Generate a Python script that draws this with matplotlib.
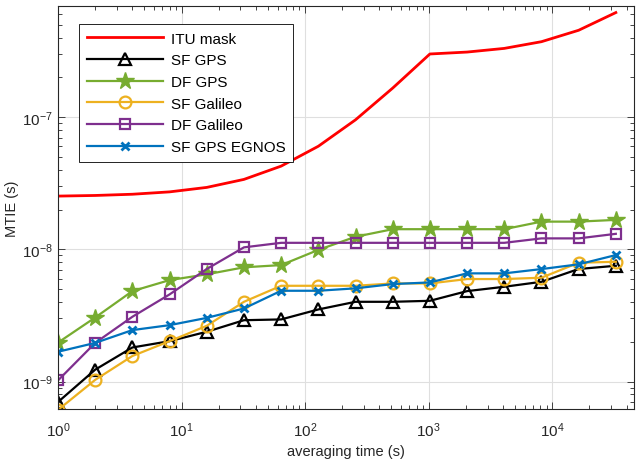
import matplotlib
matplotlib.use("Agg")
import matplotlib.pyplot as plt
from matplotlib.ticker import LogLocator, LogFormatterMathtext, NullFormatter

plt.rcParams['font.family'] = ['Liberation Sans', 'DejaVu Sans']
plt.rcParams['mathtext.fontset'] = 'custom'
plt.rcParams['mathtext.rm'] = 'Liberation Sans'
plt.rcParams['mathtext.it'] = 'Liberation Sans:italic'
plt.rcParams['mathtext.bf'] = 'Liberation Sans:bold'

tau = [1, 2, 4, 8, 16, 32, 64, 128, 256, 512, 1024, 2048, 4096, 8192, 16384, 32768]

itu_mask = [2.5275e-8, 2.555e-8, 2.61e-8, 2.72e-8, 2.94e-8, 3.38e-8, 4.26e-8, 6.02e-8,
            9.54e-8, 1.658e-7, 3.0024e-7, 3.1048e-7, 3.3096e-7, 3.7192e-7, 4.5384e-7, 6.1768e-7]
sf_gps = [7.0e-10, 1.23e-9, 1.81e-9, 2.02e-9, 2.38e-9, 2.91e-9, 2.95e-9, 3.51e-9,
          4.01e-9, 4.01e-9, 4.08e-9, 4.83e-9, 5.21e-9, 5.68e-9, 7.1e-9, 7.51e-9]
df_gps = [1.97e-9, 3.05e-9, 4.83e-9, 5.85e-9, 6.47e-9, 7.31e-9, 7.6e-9, 9.9e-9,
          1.245e-8, 1.42e-8, 1.42e-8, 1.42e-8, 1.42e-8, 1.62e-8, 1.62e-8, 1.67e-8]
sf_galileo = [6.1e-10, 1.03e-9, 1.56e-9, 2.02e-9, 2.64e-9, 4.01e-9, 5.3e-9, 5.3e-9,
              5.3e-9, 5.52e-9, 5.52e-9, 5.96e-9, 5.96e-9, 6.1e-9, 7.92e-9, 8.05e-9]
df_galileo = [1.02e-9, 1.96e-9, 3.09e-9, 4.56e-9, 7.1e-9, 1.035e-8, 1.12e-8, 1.12e-8,
              1.12e-8, 1.12e-8, 1.12e-8, 1.12e-8, 1.12e-8, 1.21e-8, 1.21e-8, 1.31e-8]
sf_gps_egnos = [1.68e-9, 1.96e-9, 2.45e-9, 2.67e-9, 3.03e-9, 3.57e-9, 4.86e-9, 4.86e-9,
                5.07e-9, 5.46e-9, 5.62e-9, 6.58e-9, 6.58e-9, 7.09e-9, 7.7e-9, 9.05e-9]

labels = ['ITU mask', 'SF GPS', 'DF GPS', 'SF Galileo', 'DF Galileo', 'SF GPS EGNOS']

fig = plt.figure(figsize=(6.36, 4.64), dpi=100)
ax = fig.add_axes([0.0912, 0.1164, 0.9057, 0.8686])

lw = 1.6
ax.plot(tau, itu_mask, color='#FF0000', lw=2.0, label=labels[0])
ax.plot(tau, sf_gps, color='black', lw=lw, marker='^', ms=9, mfc='none', mew=1.6, label=labels[1])
ax.plot(tau, df_gps, color='#77AC30', lw=lw, marker='*', ms=13, mfc='#77AC30', mew=1.0, label=labels[2])
ax.plot(tau, sf_galileo, color='#EDB120', lw=lw, marker='o', ms=8.5, mfc='none', mew=1.6, label=labels[3])
ax.plot(tau, df_galileo, color='#7E2F8E', lw=lw, marker='s', ms=7, mfc='none', mew=1.6, label=labels[4])
ax.plot(tau, sf_gps_egnos, color='#0072BD', lw=lw, marker='x', ms=6, mew=2.0, label=labels[5])

ax.set_xscale('log')
ax.set_yscale('log')
ax.set_xlim(1, 4.6e4)
ax.set_ylim(6.2e-10, 6.93e-7)

ax.xaxis.set_major_locator(LogLocator(base=10, numticks=20))
ax.yaxis.set_major_locator(LogLocator(base=10, numticks=20))
ax.xaxis.set_major_formatter(LogFormatterMathtext())
ax.yaxis.set_major_formatter(LogFormatterMathtext())
ax.xaxis.set_minor_locator(LogLocator(base=10, subs=range(2, 10), numticks=20))
ax.yaxis.set_minor_locator(LogLocator(base=10, subs=range(2, 10), numticks=20))
ax.xaxis.set_minor_formatter(NullFormatter())
ax.yaxis.set_minor_formatter(NullFormatter())

ax.grid(True, which='major', color='#DFDFDF', lw=0.8)
ax.set_axisbelow(True)
ax.tick_params(which='both', direction='in', top=True, right=True, colors='#262626',
               labelsize=11, width=0.6)
ax.tick_params(which='major', length=5)
ax.tick_params(which='minor', length=3)
ax.tick_params(axis='x', which='major', pad=8)
ax.tick_params(axis='y', which='major', pad=4)
for s in ax.spines.values():
    s.set_color('#262626')
    s.set_linewidth(0.8)

ax.set_xlabel('averaging time (s)', fontsize=10.5, color='#262626', labelpad=4)
ax.set_ylabel('MTIE (s)', fontsize=10.5, color='#262626', labelpad=2)

leg = ax.legend(loc='upper left', bbox_to_anchor=(0.0365, 0.955), borderaxespad=0,
                fontsize=11, handlelength=5.0, frameon=True, fancybox=False,
                edgecolor='black', framealpha=1, borderpad=0.5, labelspacing=0.5,
                handletextpad=0.5)
leg.get_frame().set_linewidth(0.6)

fig.savefig('out.png', dpi=100)
